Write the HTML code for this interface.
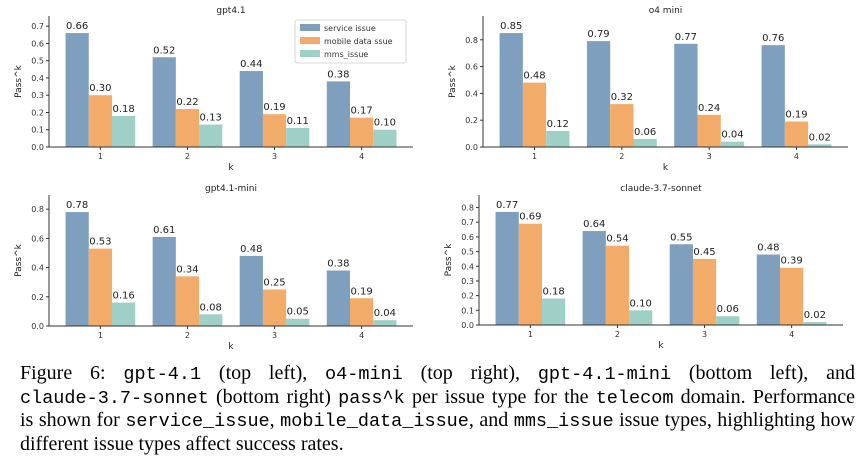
<!DOCTYPE html>
<html><head><meta charset="utf-8">
<style>
body{margin:0;background:#fff;width:867px;height:462px;overflow:hidden;position:relative;font-family:"Liberation Sans",sans-serif}
svg text{font-family:"DejaVu Sans","Liberation Sans",sans-serif}
#cap{position:absolute;left:20px;top:362px;width:835px;font-family:"Liberation Serif",serif;font-size:20px;line-height:23.5px;color:#000}
#cap .j{text-align:justify;text-align-last:justify;display:block;white-space:normal;height:23.5px;overflow:hidden}
#cap code{font-family:"Liberation Mono",monospace;font-size:18.5px}
</style></head><body>
<svg id="chart" width="867" height="360" style="position:absolute;left:0;top:0"></svg>
<div id="cap">
<span class="j">Figure 6: <code>gpt-4.1</code> (top left), <code>o4-mini</code> (top right), <code>gpt-4.1-mini</code> (bottom left), and</span>
<span class="j"><code>claude-3.7-sonnet</code> (bottom right) <code>pass^k</code> per issue type for the <code>telecom</code> domain. Performance</span>
<span class="j">is shown for <code>service_issue</code>, <code>mobile_data_issue</code>, and <code>mms_issue</code> issue types, highlighting how</span>
<span style="display:block">different issue types affect success rates.</span>
</div>
<script>
const categories = ["1","2","3","4"];
const seriesNames = ["service_issue","mobile_data_issue","mms_issue"];
const gpt41Service = [0.66,0.52,0.44,0.38];
const gpt41Mobile = [0.30,0.22,0.19,0.17];
const gpt41Mms = [0.18,0.13,0.11,0.10];
const o4Service = [0.85,0.79,0.77,0.76];
const o4Mobile = [0.48,0.32,0.24,0.19];
const o4Mms = [0.12,0.06,0.04,0.02];
const miniService = [0.78,0.61,0.48,0.38];
const miniMobile = [0.53,0.34,0.25,0.19];
const miniMms = [0.16,0.08,0.05,0.04];
const claudeService = [0.77,0.64,0.55,0.48];
const claudeMobile = [0.69,0.54,0.45,0.39];
const claudeMms = [0.18,0.10,0.06,0.02];
const ticksA = [0,0.1,0.2,0.3,0.4,0.5,0.6,0.7];
const ticksB = [0,0.2,0.4,0.6,0.8];
const ticksC = [0,0.1,0.2,0.3,0.4,0.5,0.6,0.7,0.8];
const colors = ["#7f9fbf","#f2ab69","#9fd0c7"];
const NS="http://www.w3.org/2000/svg";
const svg=document.getElementById('chart');
function mk(tag,attrs,parent){const e=document.createElementNS(NS,tag);for(const k in attrs)e.setAttribute(k,attrs[k]);(parent||svg).appendChild(e);return e;}
function panel(p){
  const g=mk('g',{});
  
  
  const ymax=Math.max(...p.series.flat())*1.15;
  const y=v=>p.bottom-(v/ymax)*(p.bottom-p.top);
  const n=categories.length;
  const x=i=>p.left+(p.right-p.left)*((i+0.59)/(n-1+1.18));
  const gw=(p.right-p.left)/(n-1+1.18)*0.8/3;
  p.series.forEach((s,si)=>{
    s.forEach((v,i)=>{
      const cx=x(i)+(si-1)*gw;
      const r=mk('rect',{x:cx-gw/2,y:y(v),width:gw,height:p.bottom-y(v),fill:colors[si]},g);
      
      
      const t=mk('text',{x:cx,y:y(v)-4,'text-anchor':'middle','font-size':10,fill:'#222'},g);
      t.textContent=v.toFixed(2);
      
      
    });
  });
  mk('line',{x1:p.left,y1:p.top,x2:p.left,y2:p.bottom,stroke:'#333','stroke-width':1},g);
  mk('line',{x1:p.left,y1:p.bottom,x2:p.right,y2:p.bottom,stroke:'#333','stroke-width':1},g);
  p.ticks.forEach(tv=>{
    mk('line',{x1:p.left-3,y1:y(tv),x2:p.left,y2:y(tv),stroke:'#333'},g);
    const t=mk('text',{x:p.left-5,y:y(tv)+3,'text-anchor':'end','font-size':8,fill:'#333'},g);
    t.textContent=tv.toFixed(1);
    
    
  });
  categories.forEach((c,i)=>{
    mk('line',{x1:x(i),y1:p.bottom,x2:x(i),y2:p.bottom+3,stroke:'#333'},g);
    const t=mk('text',{x:x(i),y:p.bottom+12,'text-anchor':'middle','font-size':8,fill:'#333'},g);
    t.textContent=c;
    
    
  });
  const ti=mk('text',{x:(p.left+p.right)/2,y:p.titleY,'text-anchor':'middle','font-size':9,fill:'#222'},g);
  ti.textContent=p.title;
  
  
  const xl=mk('text',{x:(p.left+p.right)/2,y:p.bottom+23,'text-anchor':'middle','font-size':9,fill:'#222'},g);
  xl.textContent='k';
  
  
  const yc=(p.top+p.bottom)/2;
  const yl=mk('text',{x:p.left-28,y:yc,'text-anchor':'middle','font-size':9,fill:'#222',transform:`rotate(-90 ${p.left-28} ${yc})`},g);
  yl.textContent='Pass^k';
  
  
}
panel({name:'panel-gpt41',title:'gpt4.1',left:49,right:413,top:16,bottom:147,titleY:13,ticks:ticksA,series:[gpt41Service,gpt41Mobile,gpt41Mms]});
panel({name:'panel-o4-mini',title:'o4 mini',left:483,right:848,top:16,bottom:147,titleY:13,ticks:ticksB,series:[o4Service,o4Mobile,o4Mms]});
panel({name:'panel-gpt41-mini',title:'gpt4.1-mini',left:49,right:413,top:195,bottom:326,titleY:191,ticks:ticksB,series:[miniService,miniMobile,miniMms]});
panel({name:'panel-claude',title:'claude-3.7-sonnet',left:479,right:843,top:195,bottom:325,titleY:191,ticks:ticksC,series:[claudeService,claudeMobile,claudeMms]});
const lg=mk('g',{});


mk('rect',{x:295,y:20,width:111,height:43,fill:'#fff',stroke:'#ccc','stroke-width':0.8,rx:2},lg);
const legendLabels=["service issue","mobile data  ssue","mms_issue"];
legendLabels.forEach((l,i)=>{
  const sw=mk('rect',{x:300,y:24+i*13,width:20,height:7,fill:colors[i]},lg);
  
  
  const t=mk('text',{x:324,y:31+i*13,'font-size':8,fill:'#333'},lg);
  t.textContent=l;
  
  
});
</script>
</body></html>
